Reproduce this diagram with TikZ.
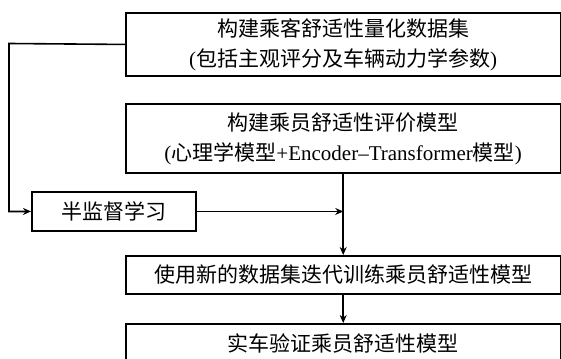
\documentclass[tikz,border=0pt]{standalone}
\usepackage{fontspec}
\setmainfont{Liberation Serif}
\newfontfamily\cjk{Noto Sans CJK SC}
\usetikzlibrary{arrows.meta}
\begin{document}
\begin{tikzpicture}[x=1pt,y=-1pt,
  every node/.style={font=\fontsize{21}{30}\selectfont},
  boxstyle/.style={draw,line width=1.9pt,inner sep=0pt,align=center,anchor=north west},
  conn/.style={line width=1.6pt},
  arr/.style={conn,-{Stealth[length=8pt,width=7pt]}}]
\useasboundingbox (0,0) rectangle (561,358);
\clip (0,0) rectangle (561,358);
\node[boxstyle,minimum width=434.5pt,minimum height=63pt] (b1) at (125,12)
  {{\cjk 构建乘客舒适性量化数据集}\\({\cjk 包括主观评分及车辆动力学参数})};
\node[boxstyle,minimum width=434.5pt,minimum height=69pt] (b2) at (125,103)
  {{\cjk 构建乘员舒适性评价模型}\\({\cjk 心理学模型}+Encoder–Transformer{\cjk 模型})};
\node[boxstyle,minimum width=164pt,minimum height=39pt] (b3) at (31,191)
  {\cjk 半监督学习};
\node[boxstyle,minimum width=434.5pt,minimum height=38pt] (b4) at (125,255)
  {\cjk 使用新的数据集迭代训练乘员舒适性模型};
\node[boxstyle,minimum width=434.5pt,minimum height=40pt] (b5) at (125,323)
  {\cjk 实车验证乘员舒适性模型};
\coordinate (fb) at (9,43.5);
\coordinate (j) at (b2.south |- b3.east);
\draw[arr] (b1.west) -- (fb) |- (b3.west);
\draw[arr] (b3.east) -- (j);
\draw[arr] (b2.south) -- (b4.north);
\draw[arr] (b4.south) -- (b5.north);
\end{tikzpicture}
\end{document}
